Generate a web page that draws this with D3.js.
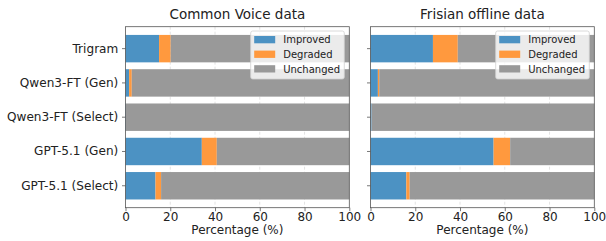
<!doctype html>
<html lang="en">
<head>
<meta charset="UTF-8">
<title>Chart</title>
<script src="https://cdn.jsdelivr.net/npm/d3@7"></script>
<style>
  body { margin: 0; background: #fff; }
  text { font-family: "DejaVu Sans", sans-serif; }
</style>
</head>
<body>
<svg width="606" height="241"></svg>
<script>
// data
const systems = ["Trigram", "Qwen3-FT (Gen)", "Qwen3-FT (Select)", "GPT-5.1 (Gen)", "GPT-5.1 (Select)"];
const panelTitles = ["Common Voice data", "Frisian offline data"];
const cvImproved = [15.0, 1.6, 0.2, 34.1, 13.4];
const cvDegraded = [5.2, 1.2, 0.0, 6.7, 2.5];
const frImproved = [27.9, 3.3, 0.5, 55.0, 16.0];
const frDegraded = [11.1, 0.6, 0.0, 7.4, 1.5];
const xTicks = [0, 20, 40, 60, 80, 100];
const seriesNames = ["Improved", "Degraded", "Unchanged"];
const colors = ["#4c92c3", "#ff993e", "#999999"];

const svg = d3.select("svg");
const plotTop = 26.7, plotBottom = 207.7;
const panels = [
  { x0: 125.5, x1: 349.3, imp: cvImproved, deg: cvDegraded, title: panelTitles[0] },
  { x0: 370.5, x1: 594.3, imp: frImproved, deg: frDegraded, title: panelTitles[1] }
];

const y = d3.scaleBand().domain(systems).range([plotTop, plotBottom]).paddingInner(0.2).paddingOuter(0.24);

panels.forEach(function (p, pi) {
  const x = d3.scaleLinear().domain([0, 100]).range([p.x0, p.x1]);
  const rows = systems.map(function (s, i) {
    return { name: s, Improved: p.imp[i], Degraded: p.deg[i], Unchanged: 100 - p.imp[i] - p.deg[i] };
  });
  const stacked = d3.stack().keys(seriesNames)(rows);
  const g = svg.append("g");

  // grid
  g.selectAll(".grid").data(xTicks.slice(1, -1)).enter().append("line")
    .attr("x1", d => x(d)).attr("x2", d => x(d))
    .attr("y1", plotTop).attr("y2", plotBottom)
    .attr("stroke", "#dcdcdc").attr("stroke-width", 0.8).attr("stroke-dasharray", "3,2");

  stacked.forEach(function (layer, li) {
    g.selectAll(null).data(layer).enter().append("rect")
      .attr("x", d => x(d[0]))
      .attr("width", d => x(d[1]) - x(d[0]))
      .attr("y", d => y(d.data.name))
      .attr("height", y.bandwidth())
      .attr("fill", colors[li]);
  });

  // frame
  g.append("rect").attr("x", p.x0).attr("y", plotTop).attr("width", p.x1 - p.x0).attr("height", plotBottom - plotTop)
    .attr("fill", "none").attr("stroke", "#555").attr("stroke-width", 0.8);

  // x axis
  const xAxis = d3.axisBottom(x).tickValues(xTicks).tickSize(3.5).tickPadding(0.8).tickFormat(d3.format("d"));
  const ax = g.append("g").attr("transform", "translate(0," + plotBottom + ")").call(xAxis);
  ax.select(".domain").remove();
  ax.selectAll("line").attr("stroke", "#555").attr("stroke-width", 0.8);
  ax.selectAll("text").attr("font-size", 12).attr("fill", "#222").attr("font-family", "DejaVu Sans");

  // y axis
  const yAxis = d3.axisLeft(y).tickSize(3.5).tickPadding(3.7).tickFormat(pi === 0 ? null : "");
  const ay = g.append("g").attr("transform", "translate(" + p.x0 + ",0)").call(yAxis);
  ay.select(".domain").remove();
  ay.selectAll("line").attr("stroke", "#555").attr("stroke-width", 0.8);
  ay.selectAll("text").attr("font-size", 12.1).attr("fill", "#222").attr("font-family", "DejaVu Sans");

  g.append("text").attr("x", (p.x0 + p.x1) / 2).attr("y", 233.5)
    .attr("text-anchor", "middle").attr("font-size", 12).attr("fill", "#222")
    .text("Percentage (%)");

  g.append("text").attr("x", (p.x0 + p.x1) / 2).attr("y", 19)
    .attr("text-anchor", "middle").attr("font-size", 13.5).attr("fill", "#222")
    .text(p.title);

  // legend
  const lg = g.append("g").attr("transform", "translate(" + (p.x1 - 98.6) + ",31)");
  lg.append("rect").attr("width", 93.6).attr("height", 48).attr("rx", 2)
    .attr("fill", "#ffffff").attr("fill-opacity", 0.8).attr("stroke", "#d0d0d0").attr("stroke-width", 0.8);
  seriesNames.forEach(function (s, i) {
    lg.append("rect").attr("x", 3.5).attr("y", 5 + i * 14.6).attr("width", 21).attr("height", 7.3).attr("fill", colors[i]);
    lg.append("text").attr("x", 32.5).attr("y", 12.3 + i * 14.6).attr("font-size", 10).attr("fill", "#222").text(s);
  });
});
</script>
</body>
</html>
